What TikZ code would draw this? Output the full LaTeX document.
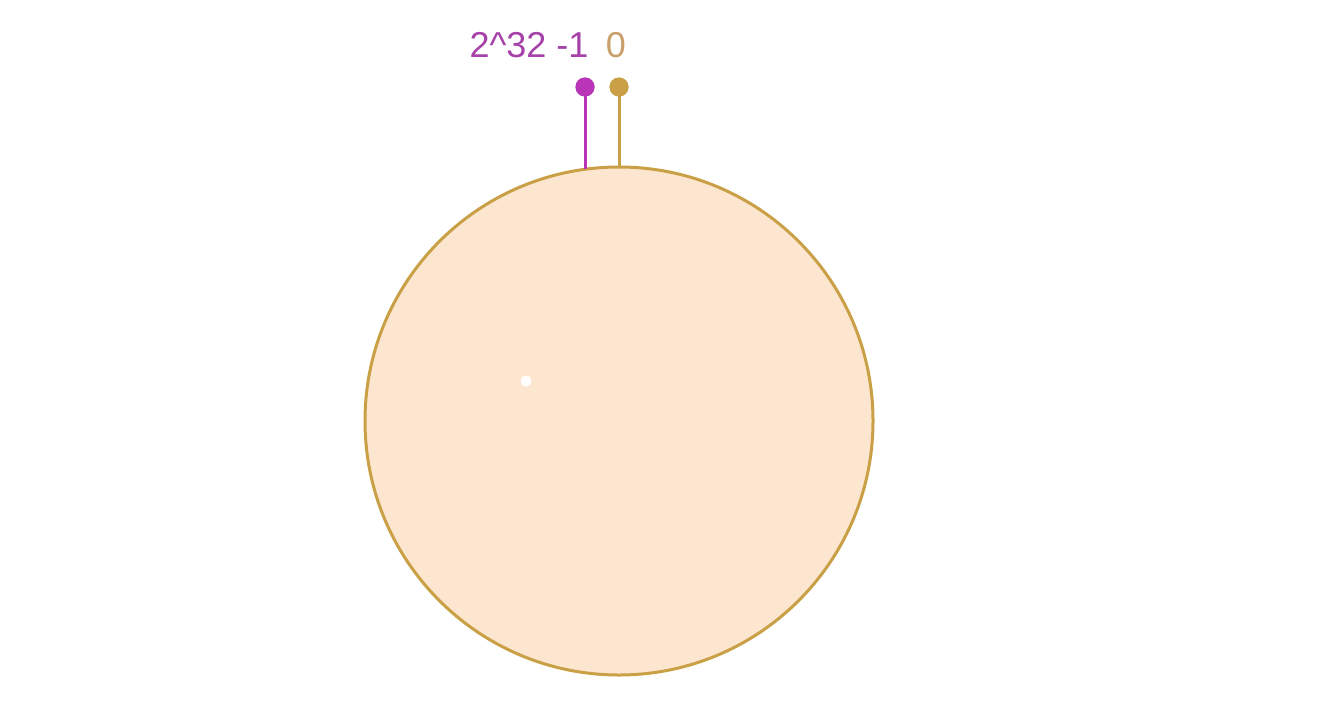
\documentclass[tikz,border=0pt]{standalone}
\usepackage{fontspec}
\setmainfont{Liberation Sans}
\definecolor{ringfill}{HTML}{FDE6D0}
\definecolor{ringline}{HTML}{C9A045}
\definecolor{magpin}{HTML}{B935B8}
\definecolor{magtext}{HTML}{A541A8}
\definecolor{orgtext}{HTML}{C9A06A}
\begin{document}
\begin{tikzpicture}[x=1pt,y=-1pt,
  pinline/.style={line width=3pt},
  pindot/.style={circle,inner sep=0pt,minimum size=19pt},
  lbl/.style={font=\fontsize{36}{40}\selectfont,inner sep=0pt}]
\useasboundingbox (0,0) rectangle (1324,704);
\fill[white] (0,0) rectangle (1324,704);
\node[circle,draw=ringline,fill=ringfill,line width=3pt,minimum size=508pt,inner sep=0pt] (ring) at (619,421) {};
\coordinate (mbase) at (585,169);
\coordinate (obase) at (619,168);
\node[pindot,fill=magpin] (mdot) at (585,87) {};
\node[pindot,fill=ringline] (odot) at (619,87) {};
\draw[pinline,magpin] (mbase) -- (mdot.center);
\draw[pinline,ringline] (obase) -- (odot.center);
\node[pindot,fill=magpin] at (585,87) {};
\node[pindot,fill=ringline] at (619,87) {};
\node[lbl,text=magtext,anchor=base] (mlbl) at (529,57) {2\^{}32 -1};
\node[lbl,text=orgtext,anchor=base] (olbl) at (616,57) {0};
\node[circle,fill=white,inner sep=0pt,minimum size=11pt] (spot) at (526,381) {};
\end{tikzpicture}
\end{document}
